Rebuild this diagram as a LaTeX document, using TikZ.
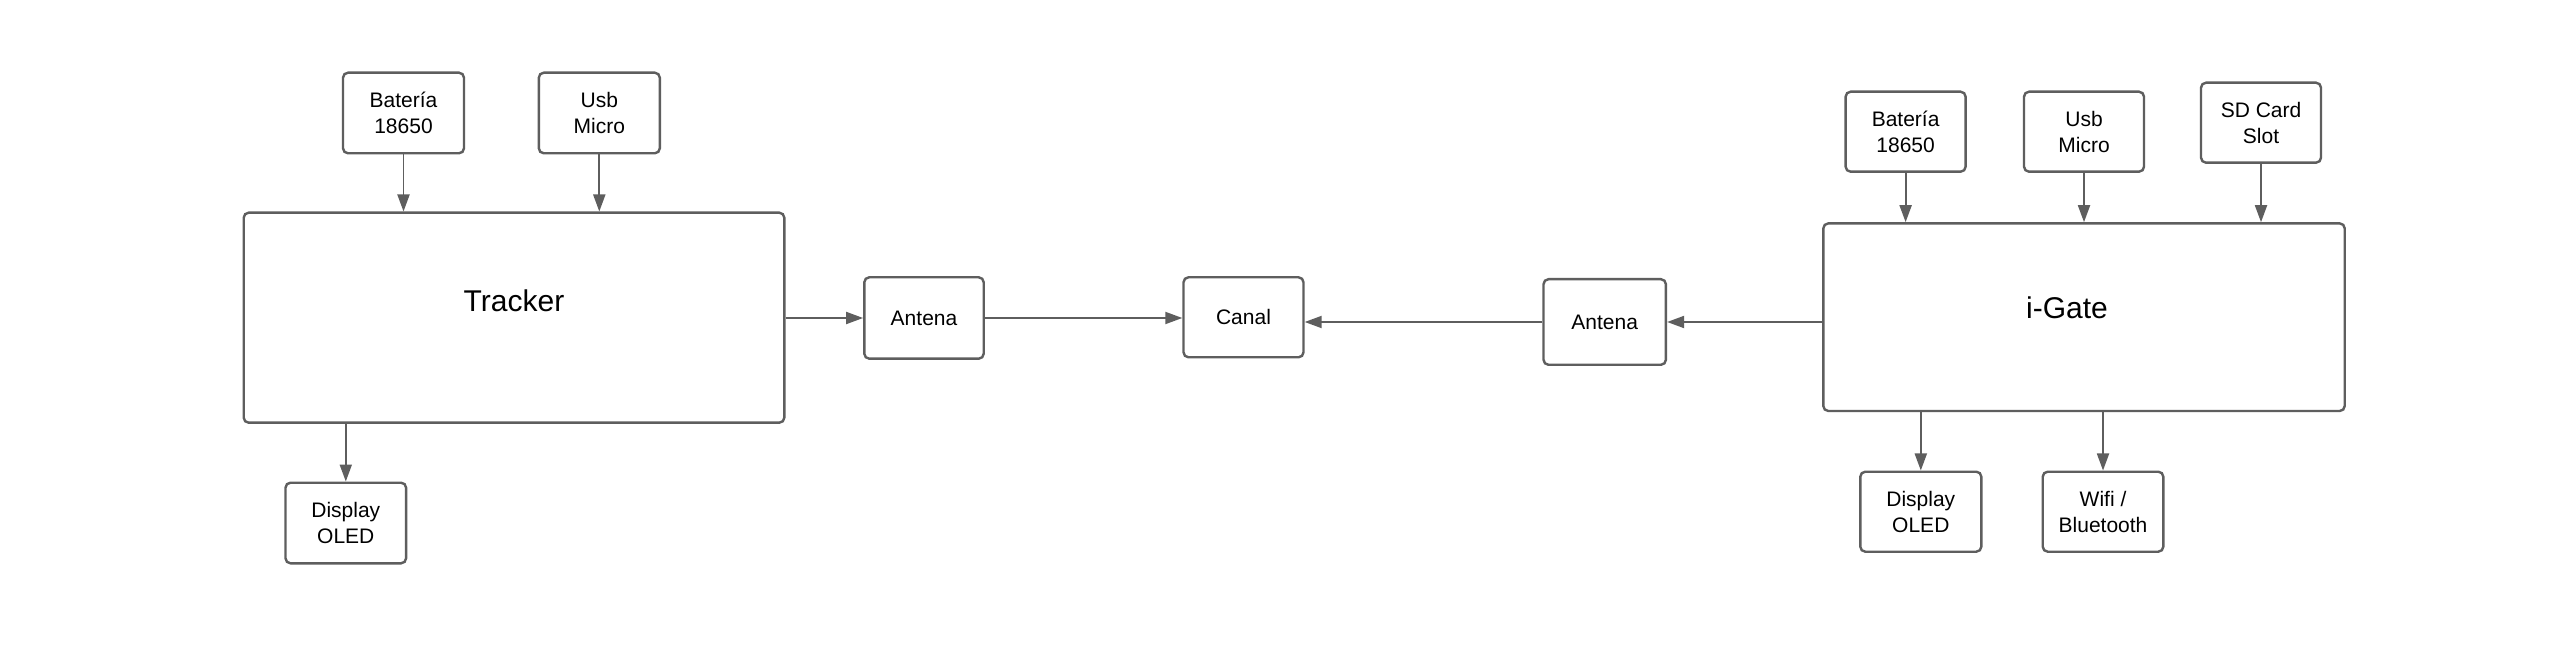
\documentclass[tikz,border=0pt]{standalone}
\usepackage{fontspec}
\setmainfont{Liberation Sans}
\usetikzlibrary{arrows.meta}
\definecolor{lc}{HTML}{5E5E5E}
\begin{document}
\begin{tikzpicture}[x=0.5pt,y=-0.5pt,
  box/.style={draw=lc, line width=1.2pt, rounded corners=2.5pt, fill=white, align=center,
    font=\fontsize{10.5}{13}\selectfont, inner sep=0pt, minimum width=60pt, minimum height=40pt},
  arr/.style={draw=lc, line width=0.95pt, -{Triangle[length=8.5pt,width=6pt]}},
  bigtext/.style={font=\fontsize{15}{18}\selectfont, inner sep=0pt}
]
\fill[white] (0,0) rectangle (2564,657);
\useasboundingbox (0,0) rectangle (2564,657);

% Tracker side
\node[box, minimum width=60.5pt, minimum height=40.3pt] (b1) at (403.5,113) {Batería\\18650};
\node[box, minimum width=60.5pt, minimum height=40.3pt] (u1) at (599.3,113) {Usb\\Micro};
\node[box, minimum width=270.3pt, minimum height=105pt,
      label={[bigtext, yshift=8.3pt]center:Tracker}] (trk) at (514,317.7) {};
\node[box, minimum width=60.3pt, minimum height=40.3pt] (d1) at (345.8,523) {Display\\OLED};
\node[box, minimum width=59.7pt, minimum height=40.7pt] (a1) at (924,318) {Antena};

% Channel
\node[box, minimum width=60pt, minimum height=40pt] (can) at (1243.5,317.3) {Canal};

% i-Gate side
\node[box, minimum width=61.2pt, minimum height=42.8pt] (a2) at (1604.7,322) {Antena};
\node[box, minimum width=260.7pt, minimum height=93.8pt,
      label={[bigtext, yshift=4.5pt, xshift=-8.5pt]center:i-Gate}] (ig) at (2084,317.2) {};
\node[box, minimum width=60pt, minimum height=40pt] (b2) at (1905.6,131.7) {Batería\\18650};
\node[box, minimum width=60pt, minimum height=40pt] (u2) at (2084,131.7) {Usb\\Micro};
\node[box, minimum width=60pt, minimum height=40pt] (sd) at (2261,122.7) {SD Card\\Slot};
\node[box, minimum width=60.5pt, minimum height=40pt] (d2) at (1920.8,511.7) {Display\\OLED};
\node[box, minimum width=60.3pt, minimum height=40pt] (wf) at (2103,511.7) {Wifi /\\Bluetooth};

% Connectors
\draw[arr] (b1.south) -- (b1.south |- trk.north);
\draw[arr] (u1.south) -- (u1.south |- trk.north);
\draw[arr] (trk.south -| d1.north) -- (d1.north);
\draw[arr] (trk.east |- a1.west) -- (a1.west);
\draw[arr] (a1.east) -- (a1.east -| can.west);
\draw[arr] (a2.west) -- (a2.west -| can.east);
\draw[arr] (ig.west |- a2.east) -- (a2.east);
\draw[arr] (b2.south) -- (b2.south |- ig.north);
\draw[arr] (u2.south) -- (u2.south |- ig.north);
\draw[arr] (sd.south) -- (sd.south |- ig.north);
\draw[arr] (ig.south -| d2.north) -- (d2.north);
\draw[arr] (ig.south -| wf.north) -- (wf.north);
\end{tikzpicture}
\end{document}
